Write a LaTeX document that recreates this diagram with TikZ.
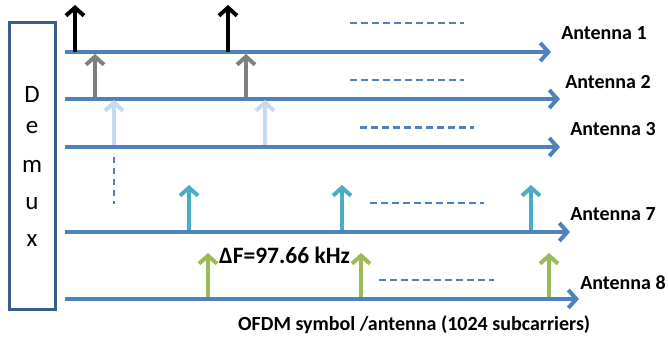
\documentclass[tikz,border=0pt]{standalone}
\usepackage{fontspec}
\setmainfont{Carlito}
\usetikzlibrary{arrows.meta}
\definecolor{axisblue}{HTML}{4F81BD}
\definecolor{boxblue}{HTML}{385D8A}
\definecolor{tonegray}{HTML}{7F7F7F}
\definecolor{tonepale}{HTML}{C6D9F1}
\definecolor{tonecyan}{HTML}{4BACC6}
\definecolor{tonegreen}{HTML}{9BBB59}
\tikzset{
  axis/.style={draw=axisblue, line width=4pt, -{Straight Barb[length=8pt,width=18pt,line width=4pt]}},
  tone/.style={line width=4pt, -{Straight Barb[length=8pt,width=18pt,line width=4pt]}},
  dots/.style={draw=axisblue, line width=2pt, dash pattern=on 7pt off 4pt},
  lbl/.style={font=\bfseries\fontsize{20}{22}\selectfont, inner sep=0pt},
  demuxletter/.style={font=\fontsize{25}{27}\selectfont, inner sep=0pt},
}
\begin{document}
\begin{tikzpicture}[x=1pt,y=-1pt]
\useasboundingbox (0,0) rectangle (668,342);

% demultiplexer block
\node[draw=boxblue, line width=3pt, fill=white, minimum width=46pt, minimum height=286pt, inner sep=0pt] (demux) at (32.5,166) {};
\node[demuxletter] (dD) at (32,94) {D};
\node[demuxletter] (de) at (32,128) {e};
\node[demuxletter] (dm) at (32,166) {m};
\node[demuxletter] (du) at (32,204) {u};
\node[demuxletter] (dx) at (32,241) {x};

% frequency axes, one per antenna
\coordinate (s1) at (65,52);  \coordinate (e1) at (551,52);
\coordinate (s2) at (65,99);  \coordinate (e2) at (560,99);
\coordinate (s3) at (65,147); \coordinate (e3) at (560,147);
\coordinate (s7) at (65,232); \coordinate (e7) at (570,232);
\coordinate (s8) at (65,299); \coordinate (e8) at (579,299);
\draw[axis] (s1) -- (e1);
\draw[axis] (s2) -- (e2);
\draw[axis] (s3) -- (e3);
\draw[axis] (s7) -- (e7);
\draw[axis] (s8) -- (e8);

% subcarrier tones
\coordinate (a1b) at (75,52);   \coordinate (a1t) at (75,5);
\coordinate (a2b) at (228,52);  \coordinate (a2t) at (228,5);
\draw[tone, black] (a1b) -- (a1t);
\draw[tone, black] (a2b) -- (a2t);

\coordinate (b1b) at (95,97);   \coordinate (b1t) at (95,54);
\coordinate (b2b) at (246,97);  \coordinate (b2t) at (246,54);
\draw[tone, tonegray] (b1b) -- (b1t);
\draw[tone, tonegray] (b2b) -- (b2t);

\coordinate (c1b) at (114,145); \coordinate (c1t) at (114,100);
\coordinate (c2b) at (265,145); \coordinate (c2t) at (265,100);
\draw[tone, tonepale] (c1b) -- (c1t);
\draw[tone, tonepale] (c2b) -- (c2t);

\coordinate (d1b) at (189,230); \coordinate (d1t) at (189,185);
\coordinate (d2b) at (342,230); \coordinate (d2t) at (342,185);
\coordinate (d3b) at (531,230); \coordinate (d3t) at (531,185);
\draw[tone, tonecyan] (d1b) -- (d1t);
\draw[tone, tonecyan] (d2b) -- (d2t);
\draw[tone, tonecyan] (d3b) -- (d3t);

\coordinate (g1b) at (208,297); \coordinate (g1t) at (208,253);
\coordinate (g2b) at (361,297); \coordinate (g2t) at (361,253);
\coordinate (g3b) at (549,297); \coordinate (g3t) at (549,253);
\draw[tone, tonegreen] (g1b) -- (g1t);
\draw[tone, tonegreen] (g2b) -- (g2t);
\draw[tone, tonegreen] (g3b) -- (g3t);

% continuation marks
\coordinate (h1a) at (350,23);  \coordinate (h1b) at (464,23);
\coordinate (h2a) at (350,80);  \coordinate (h2b) at (464,80);
\coordinate (h3a) at (360,127); \coordinate (h3b) at (474,127);
\coordinate (h7a) at (370,203); \coordinate (h7b) at (484,203);
\coordinate (h8a) at (379,280); \coordinate (h8b) at (494,280);
\draw[dots] (h1a) -- (h1b);
\draw[dots] (h2a) -- (h2b);
\draw[dots, line width=3pt] (h3a) -- (h3b);
\draw[dots] (h7a) -- (h7b);
\draw[dots] (h8a) -- (h8b);
\coordinate (v1) at (114,157); \coordinate (v2) at (114,204);
\draw[dots, dash pattern=on 6pt off 5pt] (v1) -- (v2);

% labels
\node[lbl] (ant1) at (604,33)  {Antenna 1};
\node[lbl] (ant2) at (608,82)  {Antenna 2};
\node[lbl] (ant3) at (613,129) {Antenna 3};
\node[lbl] (ant7) at (613,214) {Antenna 7};
\node[lbl] (ant8) at (623,283) {Antenna 8};
\node[lbl, anchor=west, font=\bfseries\fontsize{23.5}{25}\selectfont] (df) at (219,255) {ΔF=97.66 kHz};
\node[lbl, anchor=west] (ofdm) at (238,325) {OFDM symbol /antenna (1024 subcarriers)};
\end{tikzpicture}
\end{document}
